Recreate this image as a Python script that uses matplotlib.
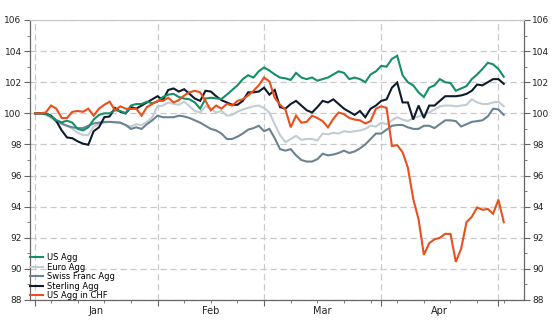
import numpy as np
import pandas as pd
import matplotlib
matplotlib.use("Agg")
import matplotlib.pyplot as plt
from matplotlib.ticker import MultipleLocator, FixedLocator
import matplotlib.transforms as mtransforms

# business days, index 100 at start
dates = pd.bdate_range("2020-01-01", periods=89)

us_agg = [100.0, 100.0, 100.0, 99.8, 99.55, 99.42, 99.53, 99.4, 99.0, 98.9,
          99.1, 99.6, 99.9, 100.0, 100.0, 100.2, 100.15, 100.0, 100.5, 100.6,
          100.6, 100.75, 100.65, 100.75, 101.05, 101.2, 101.25, 101.05, 100.95, 100.9,
          100.7, 100.3, 100.95, 101.0, 100.96, 100.92, 101.2, 101.5, 101.8, 102.2,
          102.45, 102.3, 102.7, 102.95, 102.75, 102.5, 102.3, 102.25, 102.15, 102.6,
          102.3, 102.2, 102.3, 102.1, 102.2, 102.3, 102.5, 102.7, 102.6, 102.2,
          102.3, 102.2, 102.0, 102.5, 102.7, 103.05, 103.0, 103.5, 103.7, 102.45,
          102.0, 101.8, 101.35, 101.05, 101.65, 101.8, 102.2, 102.0, 101.95, 101.45,
          101.6, 101.75, 102.2, 102.5, 102.85, 103.25, 103.15, 102.85, 102.35]

euro_agg = [100.0, 100.0, 99.9, 99.7, 99.45, 99.3, 99.2, 99.0, 98.75, 98.6,
            98.6, 99.15, 99.3, 99.4, 99.45, 99.45, 99.4, 99.25, 99.15, 99.3,
            99.25, 99.45, 99.75, 100.45, 100.5, 100.7, 100.6, 100.55, 100.75, 100.45,
            100.15, 100.05, 100.45, 100.3, 100.05, 100.15, 99.85, 99.9, 100.1, 100.25,
            100.35, 100.45, 100.5, 100.35, 100.05, 99.3, 98.6, 98.15, 98.35, 98.55,
            98.3, 98.35, 98.35, 98.25, 98.7, 98.65, 98.75, 98.7, 98.85, 98.8,
            98.85, 98.9, 99.0, 99.2, 99.15, 99.4, 99.3, 99.55, 99.75, 99.6,
            99.5, 99.7, 99.8, 99.95, 100.05, 100.25, 100.45, 100.5, 100.5, 100.45,
            100.5, 100.55, 100.9, 100.7, 100.6, 100.6, 100.7, 100.75, 100.45]

swiss_agg = [100.0, 100.0, 99.95, 99.8, 99.55, 99.35, 99.2, 99.1, 99.05, 99.05,
             99.2, 99.35, 99.4, 99.45, 99.45, 99.42, 99.4, 99.25, 99.0, 99.1,
             99.0, 99.3, 99.55, 99.85, 99.75, 99.75, 99.75, 99.85, 99.8, 99.7,
             99.55, 99.4, 99.2, 99.0, 98.9, 98.7, 98.35, 98.35, 98.5, 98.7,
             98.95, 99.05, 99.2, 98.85, 99.0, 98.4, 97.7, 97.6, 97.7, 97.3,
             97.0, 96.9, 96.9, 97.05, 97.4, 97.3, 97.35, 97.45, 97.6, 97.45,
             97.55, 97.75, 98.0, 98.35, 98.7, 98.7, 98.95, 99.2, 99.25, 99.25,
             99.1, 99.0, 99.0, 99.2, 99.2, 99.05, 99.3, 99.55, 99.55, 99.5,
             99.15, 99.3, 99.45, 99.5, 99.55, 99.8, 100.3, 100.25, 99.9]

sterling_agg = [100.0, 100.0, 100.0, 99.85, 99.5, 98.9, 98.45, 98.4, 98.2, 98.05,
                97.98, 98.85, 99.1, 99.75, 99.8, 100.35, 100.1, 100.0, 100.4, 100.3,
                100.5, 100.7, 100.9, 101.1, 100.85, 101.5, 101.6, 101.4, 101.55, 101.25,
                100.95, 100.8, 101.45, 101.4, 101.1, 100.85, 100.7, 100.55, 100.55, 100.8,
                101.35, 101.35, 101.4, 101.65, 101.2, 101.5, 100.4, 100.3, 100.6, 100.8,
                100.5, 100.2, 100.05, 100.4, 100.8, 100.7, 100.9, 100.6, 100.3, 100.1,
                99.9, 100.15, 99.75, 100.3, 100.5, 100.8, 100.9, 101.65, 101.98, 100.7,
                100.7, 99.6, 100.5, 99.7, 100.5, 100.5, 100.8, 101.1, 101.1, 101.1,
                101.15, 101.25, 101.45, 101.85, 101.8, 102.0, 102.2, 102.2, 101.9]

us_agg_chf = [100.0, 100.0, 100.05, 100.5, 100.3, 99.7, 99.7, 100.1, 100.15, 100.1,
              100.3, 99.85, 100.3, 100.55, 100.75, 100.2, 100.45, 100.3, 100.28, 100.3,
              99.85, 100.4, 100.6, 100.8, 100.8, 101.0, 100.7, 100.85, 101.15, 101.35,
              101.45, 101.35, 100.8, 100.2, 100.5, 100.3, 100.6, 100.5, 100.8, 100.9,
              101.15, 101.45, 101.8, 102.3, 102.05, 101.0, 100.55, 100.25, 99.1, 99.85,
              99.4, 99.45, 99.85, 99.7, 99.5, 99.1, 99.65, 100.05, 99.95, 99.7,
              99.6, 99.55, 99.35, 99.5, 100.3, 100.45, 100.35, 97.9, 97.95, 97.5,
              96.5, 94.5, 93.2, 90.9, 91.65, 91.9, 92.0, 92.25, 92.25, 90.45,
              91.3, 93.0, 93.35, 93.95, 93.8, 93.85, 93.55, 94.45, 93.0]

names = ["US Agg", "Euro Agg", "Swiss Franc Agg", "Sterling Agg", "US Agg in CHF"]
colors = ["#168f66", "#c3ccd3", "#6b8391", "#0f1b2b", "#e9501c"]
series = [us_agg, euro_agg, swiss_agg, sterling_agg, us_agg_chf]

x = np.arange(len(dates))
month_starts = [i for i in range(len(dates)) if i == 0 or dates[i].month != dates[i - 1].month]
mondays = [i for i in range(len(dates)) if dates[i].weekday() == 0]

fig = plt.figure(figsize=(5.55, 3.25), dpi=100)
ax = fig.add_axes([30 / 555, 25 / 325, 494 / 555, 280 / 325])

lines = {}
for k in [1, 2, 3, 0, 4]:
    ln, = ax.plot(x, series[k], color=colors[k], lw=1.5, label=names[k], solid_joinstyle="miter")
    lines[k] = ln

ax.set_xlim(-0.95, 91.8)
ax.set_ylim(88, 106)

ax.yaxis.set_major_locator(MultipleLocator(2))
ax.yaxis.set_minor_locator(MultipleLocator(1))
ax.xaxis.set_major_locator(FixedLocator(month_starts))
ax.xaxis.set_minor_locator(FixedLocator(mondays))
ax.set_xticklabels([])

ax.grid(True, which="major", ls=(0, (5, 3)), color="#c9c9c9", lw=0.9)
ax.set_axisbelow(True)

for s in ["left", "right", "bottom"]:
    ax.spines[s].set_color("#666666")
    ax.spines[s].set_linewidth(0.9)
ax.spines["top"].set_color("#c9c9c9")
ax.spines["top"].set_linewidth(0.9)

ax.tick_params(axis="y", which="both", left=True, right=True, labelleft=True, labelright=True,
               colors="#666666", labelcolor="#222222", labelsize=6.5, direction="out")
ax.tick_params(axis="y", which="major", length=4, pad=2)
ax.tick_params(axis="y", which="minor", length=2)
ax.tick_params(axis="x", which="major", length=4, colors="#666666")
ax.tick_params(axis="x", which="minor", length=2, colors="#666666")

# month labels centred between month starts
trans = mtransforms.blended_transform_factory(ax.transData, ax.transAxes)
for a, b in zip(month_starts[:-1], month_starts[1:]):
    ax.text((a + b) / 2, -0.04, dates[a].strftime("%b"), transform=trans,
            ha="center", va="center", fontsize=7, color="#222222")

leg = ax.legend([lines[k] for k in range(5)], names, loc="lower left",
                bbox_to_anchor=(0.0, 0.0), frameon=False, fontsize=6,
                handlelength=1.5, handletextpad=0.5, labelspacing=0.05,
                borderaxespad=0.0, borderpad=0.0)

fig.savefig("out.png", dpi=100)
